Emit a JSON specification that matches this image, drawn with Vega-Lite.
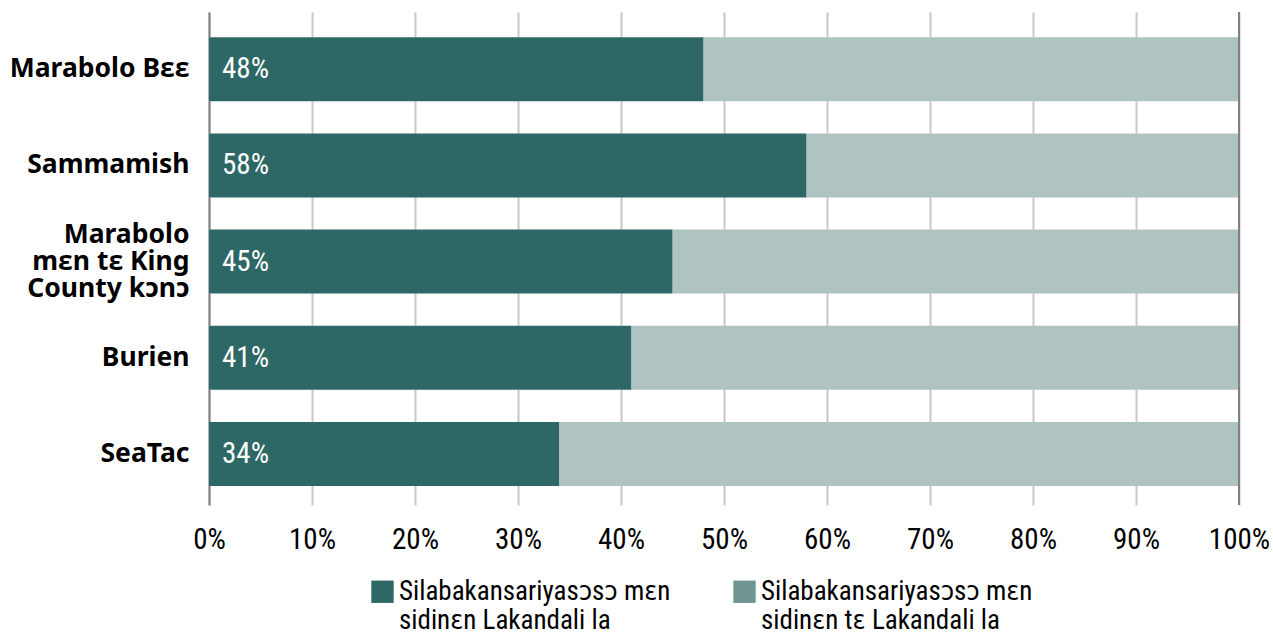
{
  "$schema": "https://vega.github.io/schema/vega-lite/v6.json",
  "autosize": "none",
  "width": 1030,
  "height": 493,
  "padding": {"left": 209, "top": 12, "right": 34, "bottom": 132},
  "background": "white",
  "config": {
    "view": {"stroke": null},
    "font": "Roboto Condensed, Liberation Sans Narrow, DejaVu Sans Condensed, sans-serif",
    "legend": {"symbolOpacity": 1}
  },
  "data": {
    "values": [
      {"place": "Marabolo Bɛɛ", "series": "Silabakansariyasɔsɔ mɛn|sidinɛn Lakandali la", "order": 1, "pct": 48, "label": "48%"},
      {"place": "Marabolo Bɛɛ", "series": "Silabakansariyasɔsɔ mɛn|sidinɛn tɛ Lakandali la", "order": 2, "pct": 52, "label": "52%"},
      {"place": "Sammamish", "series": "Silabakansariyasɔsɔ mɛn|sidinɛn Lakandali la", "order": 1, "pct": 58, "label": "58%"},
      {"place": "Sammamish", "series": "Silabakansariyasɔsɔ mɛn|sidinɛn tɛ Lakandali la", "order": 2, "pct": 42, "label": "42%"},
      {"place": "Marabolo|mɛn tɛ King|County kɔnɔ", "series": "Silabakansariyasɔsɔ mɛn|sidinɛn Lakandali la", "order": 1, "pct": 45, "label": "45%"},
      {"place": "Marabolo|mɛn tɛ King|County kɔnɔ", "series": "Silabakansariyasɔsɔ mɛn|sidinɛn tɛ Lakandali la", "order": 2, "pct": 55, "label": "55%"},
      {"place": "Burien", "series": "Silabakansariyasɔsɔ mɛn|sidinɛn Lakandali la", "order": 1, "pct": 41, "label": "41%"},
      {"place": "Burien", "series": "Silabakansariyasɔsɔ mɛn|sidinɛn tɛ Lakandali la", "order": 2, "pct": 59, "label": "59%"},
      {"place": "SeaTac", "series": "Silabakansariyasɔsɔ mɛn|sidinɛn Lakandali la", "order": 1, "pct": 34, "label": "34%"},
      {"place": "SeaTac", "series": "Silabakansariyasɔsɔ mɛn|sidinɛn tɛ Lakandali la", "order": 2, "pct": 66, "label": "66%"}
    ]
  },
  "layer": [
    {
      "mark": {"type": "bar", "color": "white", "opacity": 1},
      "encoding": {
        "y": {
          "field": "place",
          "type": "nominal",
          "sort": null,
          "scale": {"paddingInner": 0.335, "paddingOuter": 0.23, "align": 0.57},
          "axis": {
            "title": null,
            "labelExpr": "split(datum.label, '|')",
            "labelFont": "Noto Sans",
            "labelFontWeight": "bold",
            "labelFontSize": 26.5,
            "labelColor": "black",
            "labelPadding": 20,
            "labelLineHeight": 27,
            "labelOffset": {"condition": {"test": "indexof(datum.value, '|') >= 0", "value": -27}, "value": 0},
            "ticks": false,
            "domainColor": "#808080",
            "domainWidth": 2,
            "grid": false,
            "labelLimit": 300
          }
        },
        "x": {
          "field": "pct",
          "type": "quantitative",
          "stack": "zero",
          "scale": {"domain": [0, 100], "nice": false},
          "axis": {
            "title": null,
            "values": [0, 10, 20, 30, 40, 50, 60, 70, 80, 90, 100],
            "labelExpr": "datum.value + '%'",
            "labelFontSize": 29,
            "labelColor": "black",
            "labelPadding": 20,
            "ticks": false,
            "domain": false,
            "grid": true,
            "gridColor": "#c8c8c8",
            "gridWidth": 2,
            "labelFlush": false
          }
        },
        "order": {"field": "order"}
      }
    },
    {
      "mark": {"type": "bar"},
      "encoding": {
        "y": {"field": "place", "type": "nominal", "sort": null},
        "x": {"field": "pct", "type": "quantitative", "stack": "zero"},
        "order": {"field": "order"},
        "opacity": {"condition": {"test": "datum.order == 2", "value": 0.565}, "value": 1},
        "color": {
          "field": "series",
          "type": "nominal",
          "scale": {"range": ["#2e6866", "#6f9593"]},
          "legend": {
            "title": null,
            "orient": "none",
            "legendX": 160,
            "legendY": 566,
            "direction": "horizontal",
            "columns": 2,
            "columnPadding": 60,
            "symbolType": "square",
            "symbolSize": 500,
            "symbolStrokeWidth": 0,
            "symbolOpacity": 1,
            "labelExpr": "split(datum.label, '|')",
            "labelFontSize": 27,
            "labelLineHeight": 31,
            "labelColor": "black",
            "labelOffset": 3,
            "labelLimit": 400,
            "labelBaseline": "middle"
          }
        }
      }
    },
    {
      "transform": [{"filter": "datum.order == 1"}],
      "mark": {"type": "text", "align": "left", "dx": 13, "color": "white", "fontSize": 29, "baseline": "middle"},
      "encoding": {
        "y": {"field": "place", "type": "nominal", "sort": null},
        "x": {"datum": 0, "type": "quantitative"},
        "text": {"field": "label", "type": "nominal"}
      }
    },
    {
      "mark": {"type": "rule", "color": "#808080", "strokeWidth": 2},
      "encoding": {
        "x": {"datum": 100, "type": "quantitative"}
      }
    }
  ]
}
